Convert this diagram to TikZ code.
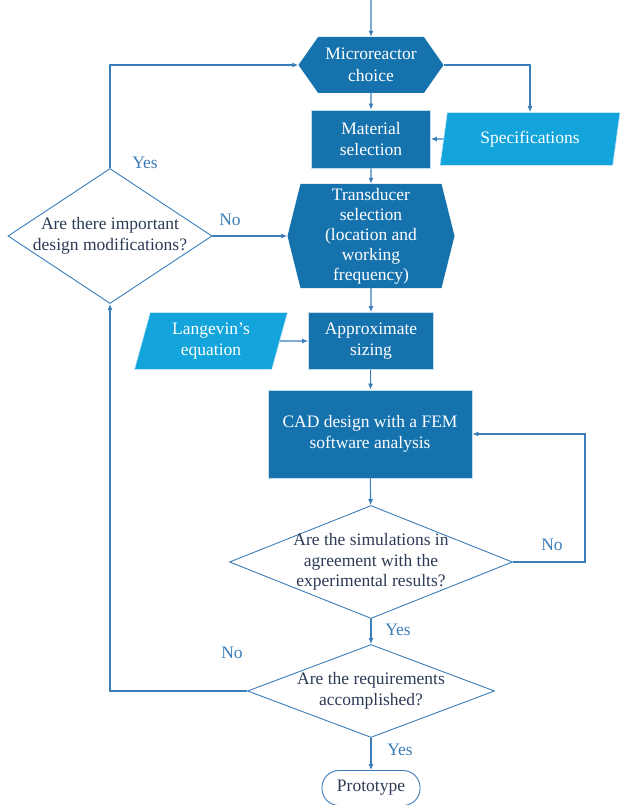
\documentclass[tikz,border=0pt]{standalone}
\usepackage{fontspec}
\setmainfont{Liberation Serif}
\usetikzlibrary{shapes.geometric,shapes.symbols,arrows.meta}
\definecolor{boxblue}{HTML}{1572AD}
\definecolor{ioblue}{HTML}{13A4DC}
\definecolor{lineblue}{HTML}{3A7DB8}
\definecolor{qtextcol}{HTML}{2B3A55}

\begin{document}
\begin{tikzpicture}[x=1pt,y=-1pt,
  font=\fontsize{17.5}{21.5}\selectfont,
  flow/.style={draw=lineblue,line width=1.1pt,-{Latex[length=6pt,width=5pt]}},
  procbox/.style={rectangle,fill=boxblue,draw=white!75!boxblue,line width=0.6pt,text=white,align=center,inner sep=1pt},
  hexbox/.style={signal,signal to=west and east,fill=boxblue,text=white,align=center,inner sep=1pt},
  iobox/.style={trapezium,trapezium left angle=68,trapezium right angle=112,trapezium stretches body=true,fill=ioblue,draw=white!75!ioblue,line width=0.6pt,text=white,align=center,inner sep=1pt},
  decision/.style={diamond,draw=lineblue,line width=0.9pt,inner sep=0pt},
  qtext/.style={text=qtextcol,align=center,font=\fontsize{17.5}{20.5}\selectfont},
  answer/.style={text=lineblue}]
\useasboundingbox (0,0) rectangle (620,805);

% process chain
\coordinate (start) at (371,0);
\node[hexbox,signal pointer angle=110,minimum width=145,minimum height=56] (micro) at (371,65) {Microreactor\\choice};
\node[procbox,minimum width=119,minimum height=58] (mat) at (371,139) {Material\\selection};
\node[iobox,minimum width=180,minimum height=53] (spec) at (530,139) {Specifications};
\node[hexbox,signal pointer angle=152,minimum width=167,minimum height=104,font=\fontsize{17.5}{20}\selectfont] (trans) at (371,236) {Transducer\\selection\\(location and\\working\\frequency)};
\node[procbox,minimum width=125,minimum height=57] (approx) at (371,341) {Approximate\\sizing};
\node[iobox,minimum width=153,minimum height=57] (lang) at (211,341) {Langevin's\\equation};
\node[procbox,minimum width=204,minimum height=88] (cad) at (370,434) {CAD design with a FEM\\software analysis};

% decisions
\node[decision,minimum width=204,minimum height=135] (mod) at (110,236) {};
\node[qtext] (modtext) at (mod) {Are there important\\design modifications?};
\node[decision,minimum width=283,minimum height=113] (sim) at (371,562) {};
\node[qtext] (simtext) at (sim) {Are the simulations in\\agreement with the\\experimental results?};
\node[decision,minimum width=247,minimum height=93] (req) at (371,691) {};
\node[qtext] (reqtext) at (req) {Are the requirements\\accomplished?};
\node[draw=lineblue,line width=0.9pt,rounded corners=17pt,minimum width=98,minimum height=35,text=qtextcol] (proto) at (371,788) {Prototype};

% connectors
\draw[flow] (start) -- (micro);
\draw[flow] (micro) -- (mat);
\draw[flow] (micro.east) -| (spec.north);
\draw[flow] (spec) -- (mat);
\draw[flow] (mat) -- (trans);
\draw[flow] (trans) -- (approx);
\draw[flow] (lang) -- (approx);
\draw[flow] (approx) -- (cad);
\draw[flow] (cad) -- (sim);
\draw[flow] (sim.east) -- ++(72,0) |- (cad.east);
\draw[flow] (sim.south) -- (req.north);
\draw[flow] (req.south) -- (proto.north);
\draw[flow] (req.west) -| (mod.south);
\draw[flow] (mod.east) -- (trans.west);
\draw[flow] (mod.north) |- (micro.west);

% answers
\node[answer] (yesmod) at (145,163) {Yes};
\node[answer] (nomod) at (230,220) {No};
\node[answer] (nosim) at (552,545) {No};
\node[answer] (yessim) at (398,630) {Yes};
\node[answer] (noreq) at (232,653) {No};
\node[answer] (yesreq) at (400,750) {Yes};
\end{tikzpicture}
\end{document}
